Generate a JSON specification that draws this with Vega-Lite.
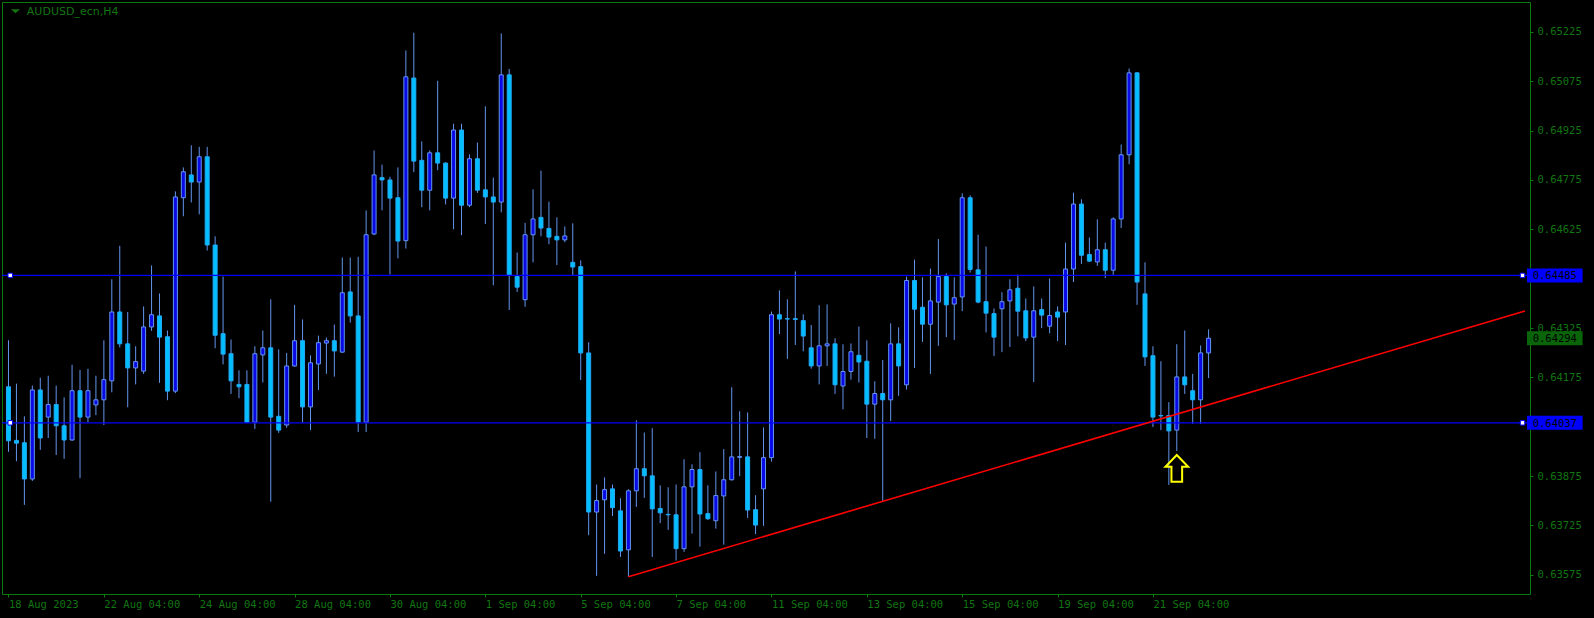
{
"$schema": "https://vega.github.io/schema/vega-lite/v6.json",
"width": 1528, "height": 592,
"autosize": {"type": "none"},
"padding": {"left": 2, "top": 2, "right": 64, "bottom": 24},
"background": "#000000",
"config": {
  "view": {"stroke": "#0b7a0b", "strokeWidth": 1, "fill": "#000000"},
  "axis": {"labelFont": "DejaVu Sans Mono", "labelFontSize": 10.5, "labelColor": "#127512", "tickColor": "#0b7a0b", "domain": false, "grid": false, "title": null}
},
"datasets": {
  "bars": [
{"i":0,"o":0.641465,"h":0.642878,"l":0.639488,"c":0.639824},
{"i":1,"o":0.639836,"h":0.641561,"l":0.639203,"c":0.639752},
{"i":2,"o":0.639764,"h":0.640568,"l":0.637874,"c":0.638663},
{"i":3,"o":0.638663,"h":0.641501,"l":0.638603,"c":0.641369},
{"i":4,"o":0.641369,"h":0.641741,"l":0.639548,"c":0.639908},
{"i":5,"o":0.640544,"h":0.641801,"l":0.639908,"c":0.640925},
{"i":6,"o":0.640925,"h":0.641501,"l":0.639392,"c":0.64028},
{"i":7,"o":0.64028,"h":0.641141,"l":0.639275,"c":0.639848},
{"i":8,"o":0.639848,"h":0.642134,"l":0.639824,"c":0.641345},
{"i":9,"o":0.641345,"h":0.641978,"l":0.638687,"c":0.640544},
{"i":10,"o":0.640544,"h":0.642014,"l":0.640388,"c":0.641345},
{"i":11,"o":0.640913,"h":0.641801,"l":0.640604,"c":0.641069},
{"i":12,"o":0.641069,"h":0.642878,"l":0.640304,"c":0.641681},
{"i":13,"o":0.641645,"h":0.644732,"l":0.641297,"c":0.643739},
{"i":14,"o":0.643739,"h":0.64575,"l":0.642662,"c":0.64277},
{"i":15,"o":0.64277,"h":0.643739,"l":0.640841,"c":0.642038},
{"i":16,"o":0.642038,"h":0.642698,"l":0.641537,"c":0.64223},
{"i":17,"o":0.641942,"h":0.643907,"l":0.641858,"c":0.643283},
{"i":18,"o":0.643283,"h":0.645152,"l":0.643163,"c":0.643655},
{"i":19,"o":0.643619,"h":0.6443,"l":0.641585,"c":0.642974},
{"i":20,"o":0.642986,"h":0.643175,"l":0.641057,"c":0.641333},
{"i":21,"o":0.641333,"h":0.647403,"l":0.641273,"c":0.647235},
{"i":22,"o":0.647211,"h":0.648132,"l":0.646647,"c":0.648},
{"i":23,"o":0.647904,"h":0.648804,"l":0.647067,"c":0.647688},
{"i":24,"o":0.647688,"h":0.648756,"l":0.646707,"c":0.648456},
{"i":25,"o":0.648456,"h":0.648756,"l":0.645606,"c":0.645774},
{"i":26,"o":0.645774,"h":0.646038,"l":0.642638,"c":0.643031},
{"i":27,"o":0.643079,"h":0.644816,"l":0.642146,"c":0.642458},
{"i":28,"o":0.64247,"h":0.642902,"l":0.641249,"c":0.641645},
{"i":29,"o":0.641537,"h":0.641966,"l":0.641117,"c":0.641465},
{"i":30,"o":0.641537,"h":0.641966,"l":0.640364,"c":0.640388},
{"i":31,"o":0.640388,"h":0.642698,"l":0.640184,"c":0.64247},
{"i":32,"o":0.642434,"h":0.643175,"l":0.641597,"c":0.64265},
{"i":33,"o":0.64265,"h":0.644123,"l":0.63797,"c":0.640544},
{"i":34,"o":0.640568,"h":0.642602,"l":0.640064,"c":0.640148},
{"i":35,"o":0.640304,"h":0.642494,"l":0.64022,"c":0.642098},
{"i":36,"o":0.642098,"h":0.643955,"l":0.642074,"c":0.642866},
{"i":37,"o":0.642866,"h":0.643511,"l":0.640388,"c":0.640853},
{"i":38,"o":0.640853,"h":0.642422,"l":0.640148,"c":0.642194},
{"i":39,"o":0.642158,"h":0.643019,"l":0.641369,"c":0.642806},
{"i":40,"o":0.642794,"h":0.642962,"l":0.641858,"c":0.642866},
{"i":41,"o":0.642866,"h":0.643355,"l":0.641774,"c":0.642554},
{"i":42,"o":0.642518,"h":0.645392,"l":0.642494,"c":0.644324},
{"i":43,"o":0.644348,"h":0.645392,"l":0.643415,"c":0.643619},
{"i":44,"o":0.643619,"h":0.645416,"l":0.640088,"c":0.640388},
{"i":45,"o":0.640388,"h":0.646827,"l":0.640088,"c":0.646086},
{"i":46,"o":0.64611,"h":0.648648,"l":0.646074,"c":0.647904},
{"i":47,"o":0.647823,"h":0.648216,"l":0.646827,"c":0.647751},
{"i":48,"o":0.647751,"h":0.647847,"l":0.644876,"c":0.647199},
{"i":49,"o":0.647211,"h":0.648132,"l":0.645368,"c":0.645894},
{"i":50,"o":0.645906,"h":0.651687,"l":0.645666,"c":0.650886},
{"i":51,"o":0.65085,"h":0.652227,"l":0.647988,"c":0.648324},
{"i":52,"o":0.648348,"h":0.648924,"l":0.646923,"c":0.647439},
{"i":53,"o":0.647439,"h":0.648648,"l":0.646827,"c":0.648576},
{"i":54,"o":0.648576,"h":0.650766,"l":0.648048,"c":0.648264},
{"i":55,"o":0.648264,"h":0.648288,"l":0.647007,"c":0.647199},
{"i":56,"o":0.647199,"h":0.649461,"l":0.646254,"c":0.649269},
{"i":57,"o":0.649269,"h":0.649461,"l":0.646074,"c":0.646983},
{"i":58,"o":0.646983,"h":0.648528,"l":0.646923,"c":0.648396},
{"i":59,"o":0.648396,"h":0.648888,"l":0.647355,"c":0.647439},
{"i":60,"o":0.647451,"h":0.649989,"l":0.64641,"c":0.647235},
{"i":61,"o":0.647235,"h":0.647823,"l":0.644552,"c":0.647079},
{"i":62,"o":0.647079,"h":0.652203,"l":0.646767,"c":0.650946},
{"i":63,"o":0.650946,"h":0.651126,"l":0.643799,"c":0.644852},
{"i":64,"o":0.644816,"h":0.645546,"l":0.644348,"c":0.644492},
{"i":65,"o":0.644111,"h":0.646446,"l":0.643895,"c":0.646086},
{"i":66,"o":0.646086,"h":0.647463,"l":0.645248,"c":0.646566},
{"i":67,"o":0.646614,"h":0.648036,"l":0.646038,"c":0.64629},
{"i":68,"o":0.646278,"h":0.647091,"l":0.645798,"c":0.646014},
{"i":69,"o":0.646038,"h":0.646614,"l":0.645164,"c":0.64593},
{"i":70,"o":0.64593,"h":0.646338,"l":0.645858,"c":0.64605},
{"i":71,"o":0.645248,"h":0.646434,"l":0.644852,"c":0.645104},
{"i":72,"o":0.645116,"h":0.645308,"l":0.641669,"c":0.642494},
{"i":73,"o":0.642494,"h":0.64282,"l":0.636953,"c":0.637658},
{"i":74,"o":0.637658,"h":0.638495,"l":0.635719,"c":0.638006},
{"i":75,"o":0.63803,"h":0.638711,"l":0.636389,"c":0.638339},
{"i":76,"o":0.638363,"h":0.638495,"l":0.637538,"c":0.63779},
{"i":77,"o":0.637694,"h":0.638078,"l":0.636293,"c":0.636473},
{"i":78,"o":0.636509,"h":0.638351,"l":0.635693,"c":0.638303},
{"i":79,"o":0.638303,"h":0.640448,"l":0.637814,"c":0.638975},
{"i":80,"o":0.638975,"h":0.640076,"l":0.63809,"c":0.638759},
{"i":81,"o":0.638759,"h":0.640208,"l":0.636293,"c":0.637754},
{"i":82,"o":0.637766,"h":0.638471,"l":0.637322,"c":0.637634},
{"i":83,"o":0.637586,"h":0.638411,"l":0.637118,"c":0.637574},
{"i":84,"o":0.637574,"h":0.638495,"l":0.636185,"c":0.636545},
{"i":85,"o":0.636545,"h":0.639263,"l":0.636449,"c":0.638423},
{"i":86,"o":0.638423,"h":0.639107,"l":0.637001,"c":0.638951},
{"i":87,"o":0.638951,"h":0.639476,"l":0.636605,"c":0.637598},
{"i":88,"o":0.63761,"h":0.638471,"l":0.637418,"c":0.637454},
{"i":89,"o":0.637394,"h":0.638891,"l":0.637154,"c":0.638159},
{"i":90,"o":0.638147,"h":0.639572,"l":0.636665,"c":0.638639},
{"i":91,"o":0.638639,"h":0.641453,"l":0.638615,"c":0.639335},
{"i":92,"o":0.63932,"h":0.640721,"l":0.638747,"c":0.639344},
{"i":93,"o":0.639335,"h":0.640685,"l":0.637478,"c":0.637718},
{"i":94,"o":0.63773,"h":0.638171,"l":0.636989,"c":0.637262},
{"i":95,"o":0.638363,"h":0.640232,"l":0.637238,"c":0.639311},
{"i":96,"o":0.639311,"h":0.643751,"l":0.639191,"c":0.643655},
{"i":97,"o":0.643655,"h":0.644396,"l":0.643067,"c":0.643523},
{"i":98,"o":0.643535,"h":0.644123,"l":0.642314,"c":0.643523},
{"i":99,"o":0.643535,"h":0.644972,"l":0.642734,"c":0.643511},
{"i":100,"o":0.643475,"h":0.643667,"l":0.642542,"c":0.643007},
{"i":101,"o":0.64265,"h":0.643343,"l":0.642014,"c":0.642098},
{"i":102,"o":0.642098,"h":0.643943,"l":0.641537,"c":0.64271},
{"i":103,"o":0.64271,"h":0.643967,"l":0.642098,"c":0.64277},
{"i":104,"o":0.64277,"h":0.642938,"l":0.641249,"c":0.641525},
{"i":105,"o":0.641489,"h":0.642758,"l":0.640781,"c":0.64193},
{"i":106,"o":0.64193,"h":0.642782,"l":0.641681,"c":0.64253},
{"i":107,"o":0.642422,"h":0.643295,"l":0.641597,"c":0.642218},
{"i":108,"o":0.642242,"h":0.642878,"l":0.639908,"c":0.640937},
{"i":109,"o":0.640937,"h":0.641633,"l":0.639884,"c":0.641261},
{"i":110,"o":0.641261,"h":0.642278,"l":0.63797,"c":0.641069},
{"i":111,"o":0.641069,"h":0.643391,"l":0.640424,"c":0.64277},
{"i":112,"o":0.64277,"h":0.643271,"l":0.641189,"c":0.642098},
{"i":113,"o":0.641525,"h":0.644816,"l":0.641381,"c":0.644696},
{"i":114,"o":0.644696,"h":0.64533,"l":0.642038,"c":0.643823},
{"i":115,"o":0.643883,"h":0.644792,"l":0.64283,"c":0.643367},
{"i":116,"o":0.643367,"h":0.645056,"l":0.641858,"c":0.644075},
{"i":117,"o":0.644039,"h":0.645954,"l":0.64271,"c":0.644816},
{"i":118,"o":0.644816,"h":0.644912,"l":0.642974,"c":0.643955},
{"i":119,"o":0.643979,"h":0.644792,"l":0.64289,"c":0.644171},
{"i":120,"o":0.644195,"h":0.647343,"l":0.643763,"c":0.647211},
{"i":121,"o":0.647211,"h":0.647283,"l":0.644936,"c":0.645032},
{"i":122,"o":0.64502,"h":0.646086,"l":0.644003,"c":0.644039},
{"i":123,"o":0.644051,"h":0.645726,"l":0.643115,"c":0.643703},
{"i":124,"o":0.643691,"h":0.643847,"l":0.642398,"c":0.642974},
{"i":125,"o":0.643835,"h":0.644339,"l":0.642518,"c":0.644051},
{"i":126,"o":0.644075,"h":0.644732,"l":0.642674,"c":0.644411},
{"i":127,"o":0.644459,"h":0.644876,"l":0.642998,"c":0.643763},
{"i":128,"o":0.643775,"h":0.644147,"l":0.642854,"c":0.64295},
{"i":129,"o":0.642974,"h":0.644516,"l":0.641609,"c":0.643775},
{"i":130,"o":0.643811,"h":0.644147,"l":0.643247,"c":0.643643},
{"i":131,"o":0.643307,"h":0.644756,"l":0.643091,"c":0.643631},
{"i":132,"o":0.643739,"h":0.643907,"l":0.642854,"c":0.643583},
{"i":133,"o":0.643739,"h":0.645846,"l":0.642734,"c":0.645044},
{"i":134,"o":0.645044,"h":0.647367,"l":0.644648,"c":0.647019},
{"i":135,"o":0.647019,"h":0.647163,"l":0.6452,"c":0.645462},
{"i":136,"o":0.645486,"h":0.646002,"l":0.64526,"c":0.645284},
{"i":137,"o":0.64526,"h":0.646554,"l":0.64514,"c":0.64563},
{"i":138,"o":0.64563,"h":0.645846,"l":0.644768,"c":0.645008},
{"i":139,"o":0.645008,"h":0.646614,"l":0.644864,"c":0.646566},
{"i":140,"o":0.646566,"h":0.648828,"l":0.64629,"c":0.648516},
{"i":141,"o":0.648516,"h":0.651138,"l":0.648228,"c":0.651006},
{"i":142,"o":0.651006,"h":0.65103,"l":0.643955,"c":0.644648},
{"i":143,"o":0.644288,"h":0.645248,"l":0.642098,"c":0.642374},
{"i":144,"o":0.64241,"h":0.642698,"l":0.640244,"c":0.640544},
{"i":145,"o":0.640592,"h":0.642242,"l":0.640148,"c":0.64058},
{"i":146,"o":0.640592,"h":0.640997,"l":0.638483,"c":0.640124},
{"i":147,"o":0.640148,"h":0.642758,"l":0.639512,"c":0.641765},
{"i":148,"o":0.641765,"h":0.643175,"l":0.641249,"c":0.641525},
{"i":149,"o":0.641345,"h":0.641858,"l":0.64034,"c":0.641069},
{"i":150,"o":0.641069,"h":0.642722,"l":0.64034,"c":0.642494},
{"i":151,"o":0.642494,"h":0.643211,"l":0.641729,"c":0.64294}
  ],
  "levels": [
    {"p": 0.64485, "kind": "level", "label": "0.64485"},
    {"p": 0.64037, "kind": "level", "label": "0.64037"},
    {"p": 0.64294, "kind": "bid", "label": "0.64294"}
  ],
  "trend": [
    {"i": 78, "p": 0.635693},
    {"i": 190.8125, "p": 0.64377}
  ],
  "arrow": [
    {"i": 147, "p": 0.638987}
  ],
  "title": [
    {"name": "AUDUSD_ecn,H4"}
  ]
},
"layer": [
  {
    "data": {"name": "bars"},
    "mark": {"type": "rule", "strokeWidth": 1, "color": "#6495ed"},
    "encoding": {
      "x": {"field": "i", "type": "quantitative",
        "scale": {"domain": [-0.1875, 190.8125], "nice": false, "zero": false},
        "axis": {"orient": "bottom", "values": [0,12,24,36,48,60,72,84,96,108,120,132,144],
          "labelExpr": "['18 Aug 2023','22 Aug 04:00','24 Aug 04:00','28 Aug 04:00','30 Aug 04:00','1 Sep 04:00','5 Sep 04:00','7 Sep 04:00','11 Sep 04:00','13 Sep 04:00','15 Sep 04:00','19 Sep 04:00','21 Sep 04:00'][round(datum.value/12)]",
          "labelAlign": "left", "labelBaseline": "top", "labelPadding": 2, "tickSize": 3, "labelFlush": false, "labelOverlap": false, "labelBound": false}},
      "y": {"field": "l", "type": "quantitative",
        "scale": {"domain": [0.635167, 0.65316], "nice": false, "zero": false},
        "axis": {"orient": "right", "values": [0.63575,0.63725,0.63875,0.64175,0.64325,0.64625,0.64775,0.64925,0.65075,0.65225],
          "format": ".5f", "labelBaseline": "middle", "labelPadding": 4, "tickSize": 3, "labelOverlap": false, "labelFlush": false}},
      "y2": {"field": "h"}
    }
  },
  {
    "data": {"name": "bars"},
    "mark": {"type": "bar", "width": 4, "strokeWidth": 1},
    "encoding": {
      "x": {"field": "i", "type": "quantitative", "scale": {"domain": [-0.1875, 190.8125], "nice": false, "zero": false}},
      "y": {"field": "o", "type": "quantitative", "scale": {"domain": [0.635167, 0.65316], "nice": false, "zero": false}},
      "y2": {"field": "c"},
      "fill": {"condition": {"test": "datum.c > datum.o", "value": "#0a0ae6"}, "value": "#00bfff"},
      "stroke": {"condition": {"test": "datum.c > datum.o", "value": "#6495ed"}, "value": "#22a8f6"}
    }
  },
  {
    "data": {"name": "levels"},
    "transform": [{"filter": "datum.kind == 'level'"}],
    "mark": {"type": "rule", "color": "#0000ff", "strokeWidth": 1.2},
    "encoding": {
      "y": {"field": "p", "type": "quantitative", "scale": {"domain": [0.635167, 0.65316], "nice": false, "zero": false}}
    }
  },
  {
    "data": {"name": "levels"},
    "transform": [{"filter": "datum.kind == 'level'"}],
    "mark": {"type": "point", "shape": "square", "size": 20, "filled": true, "fill": "#ffffff", "stroke": "#0000ff", "strokeWidth": 1, "opacity": 1},
    "encoding": {
      "x": {"datum": 0.22, "type": "quantitative", "scale": {"domain": [-0.1875, 190.8125], "nice": false, "zero": false}},
      "y": {"field": "p", "type": "quantitative", "scale": {"domain": [0.635167, 0.65316], "nice": false, "zero": false}}
    }
  },
  {
    "data": {"name": "levels"},
    "transform": [{"filter": "datum.kind == 'level'"}],
    "mark": {"type": "point", "shape": "square", "size": 20, "filled": true, "fill": "#ffffff", "stroke": "#0000ff", "strokeWidth": 1, "opacity": 1},
    "encoding": {
      "x": {"datum": 190.5, "type": "quantitative", "scale": {"domain": [-0.1875, 190.8125], "nice": false, "zero": false}},
      "y": {"field": "p", "type": "quantitative", "scale": {"domain": [0.635167, 0.65316], "nice": false, "zero": false}}
    }
  },
  {
    "data": {"name": "trend"},
    "mark": {"type": "line", "color": "#ff0000", "strokeWidth": 1.6, "clip": true},
    "encoding": {
      "x": {"field": "i", "type": "quantitative", "scale": {"domain": [-0.1875, 190.8125], "nice": false, "zero": false}},
      "y": {"field": "p", "type": "quantitative", "scale": {"domain": [0.635167, 0.65316], "nice": false, "zero": false}}
    }
  },
  {
    "data": {"name": "arrow"},
    "mark": {"type": "point", "shape": "M0,-1L0.85,-0.12L0.4,-0.12L0.4,1L-0.4,1L-0.4,-0.12L-0.85,-0.12Z", "size": 713, "filled": false, "stroke": "#ffff00", "strokeWidth": 2, "opacity": 1},
    "encoding": {
      "x": {"field": "i", "type": "quantitative", "scale": {"domain": [-0.1875, 190.8125], "nice": false, "zero": false}},
      "y": {"field": "p", "type": "quantitative", "scale": {"domain": [0.635167, 0.65316], "nice": false, "zero": false}}
    }
  },
  {
    "data": {"name": "levels"},
    "mark": {"type": "rect", "yOffset": -7, "y2Offset": 7},
    "encoding": {
      "x": {"datum": 191.06, "type": "quantitative", "scale": {"domain": [-0.1875, 190.8125], "nice": false, "zero": false}},
      "x2": {"datum": 198.06},
      "y": {"field": "p", "type": "quantitative", "scale": {"domain": [0.635167, 0.65316], "nice": false, "zero": false}},
      "y2": {"field": "p"},
      "fill": {"condition": {"test": "datum.kind == 'bid'", "value": "#0a640a"}, "value": "#0000ff"}
    }
  },
  {
    "data": {"name": "levels"},
    "mark": {"type": "text", "align": "left", "baseline": "middle", "font": "DejaVu Sans Mono", "fontSize": 10.5, "color": "#000000", "dy": 1},
    "encoding": {
      "x": {"datum": 191.78, "type": "quantitative", "scale": {"domain": [-0.1875, 190.8125], "nice": false, "zero": false}},
      "y": {"field": "p", "type": "quantitative", "scale": {"domain": [0.635167, 0.65316], "nice": false, "zero": false}},
      "text": {"field": "label"}
    }
  },
  {
    "data": {"name": "title"},
    "mark": {"type": "point", "shape": "M-1,-0.45L1,-0.45L0,0.45Z", "size": 81, "filled": true, "color": "#127512", "opacity": 1},
    "encoding": {
      "x": {"datum": 0.875, "type": "quantitative", "scale": {"domain": [-0.1875, 190.8125], "nice": false, "zero": false}},
      "y": {"datum": 0.652876, "type": "quantitative", "scale": {"domain": [0.635167, 0.65316], "nice": false, "zero": false}}
    }
  },
  {
    "data": {"name": "title"},
    "mark": {"type": "text", "align": "left", "baseline": "middle", "font": "DejaVu Sans", "fontSize": 11, "color": "#127512"},
    "encoding": {
      "x": {"datum": 2.31, "type": "quantitative", "scale": {"domain": [-0.1875, 190.8125], "nice": false, "zero": false}},
      "y": {"datum": 0.652846, "type": "quantitative", "scale": {"domain": [0.635167, 0.65316], "nice": false, "zero": false}},
      "text": {"field": "name"}
    }
  }
]
}
